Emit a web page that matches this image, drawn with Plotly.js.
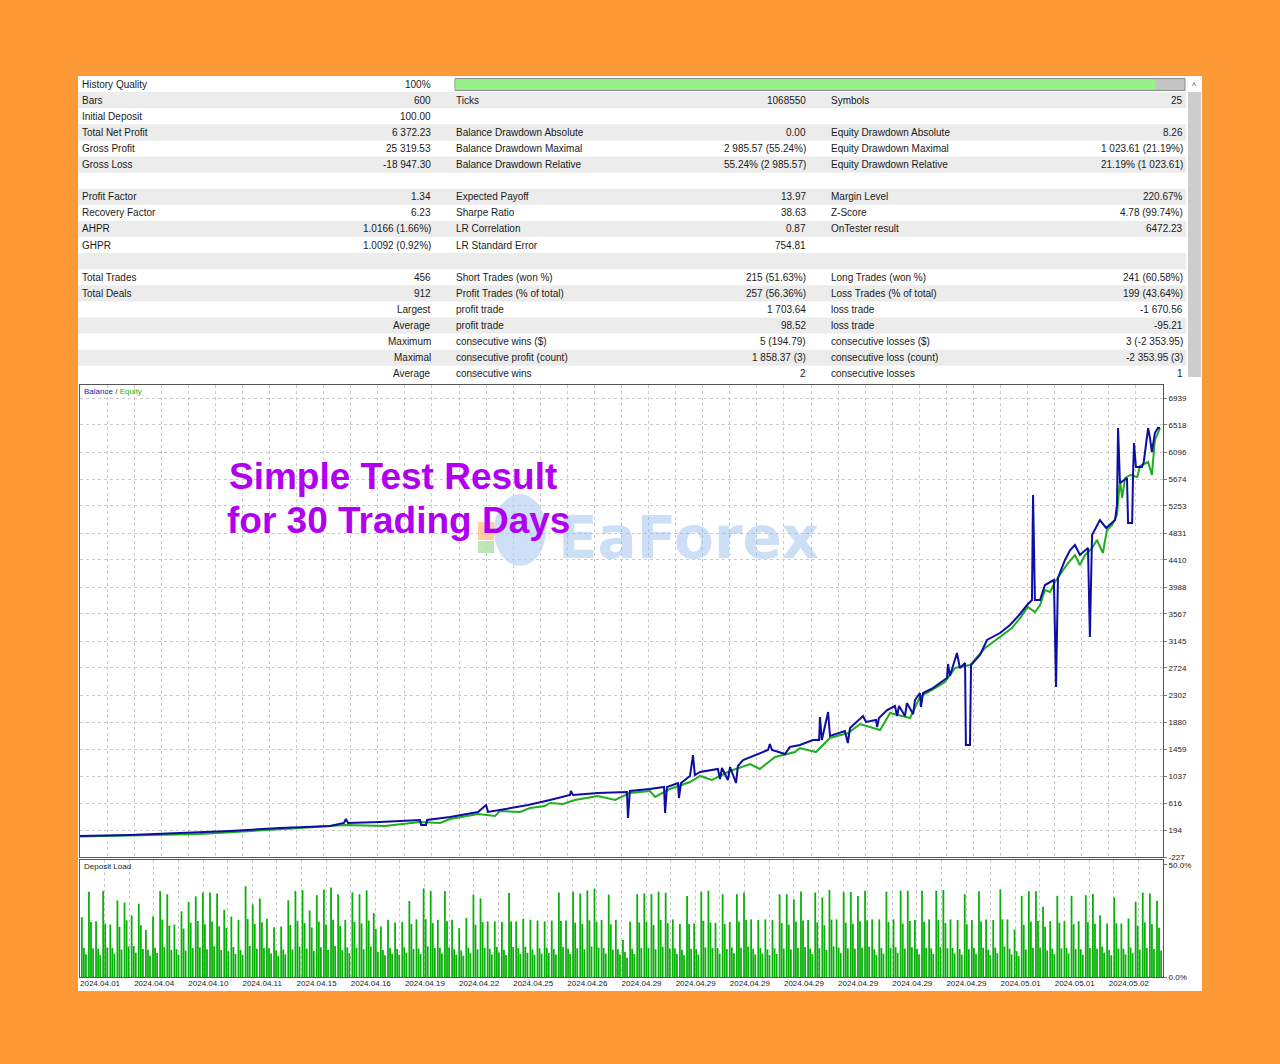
<!DOCTYPE html>
<html>
<head>
<meta charset="utf-8">
<script src="https://cdn.plot.ly/plotly-3.0.1.min.js"></script>
<style>
  html, body { margin: 0; padding: 0; background: #fd9a35; }
  #chart { width: 1280px; height: 1064px; }
</style>
</head>
<body>
<div id="chart"></div>
<script>
// ---------- report table ----------
const leftLabels = ['History Quality', 'Bars', 'Initial Deposit', 'Total Net Profit', 'Gross Profit', 'Gross Loss', '',
  'Profit Factor', 'Recovery Factor', 'AHPR', 'GHPR', '', 'Total Trades', 'Total Deals', '', '', '', '', ''];
const leftValues = ['100%', '600', '100.00', '6 372.23', '25 319.53', '-18 947.30', '',
  '1.34', '6.23', '1.0166 (1.66%)', '1.0092 (0.92%)', '', '456', '912', 'Largest', 'Average', 'Maximum', 'Maximal', 'Average'];
const midLabels = ['', 'Ticks', '', 'Balance Drawdown Absolute', 'Balance Drawdown Maximal', 'Balance Drawdown Relative', '',
  'Expected Payoff', 'Sharpe Ratio', 'LR Correlation', 'LR Standard Error', '', 'Short Trades (won %)', 'Profit Trades (% of total)',
  'profit trade', 'profit trade', 'consecutive wins ($)', 'consecutive profit (count)', 'consecutive wins'];
const midValues = ['', '1068550', '', '0.00', '2 985.57 (55.24%)', '55.24% (2 985.57)', '',
  '13.97', '38.63', '0.87', '754.81', '', '215 (51.63%)', '257 (56.36%)', '1 703.64', '98.52', '5 (194.79)', '1 858.37 (3)', '2'];
const rightLabels = ['', 'Symbols', '', 'Equity Drawdown Absolute', 'Equity Drawdown Maximal', 'Equity Drawdown Relative', '',
  'Margin Level', 'Z-Score', 'OnTester result', '', '', 'Long Trades (won %)', 'Loss Trades (% of total)',
  'loss trade', 'loss trade', 'consecutive losses ($)', 'consecutive loss (count)', 'consecutive losses'];
const rightValues = ['', '25', '', '8.26', '1 023.61 (21.19%)', '21.19% (1 023.61)', '',
  '220.67%', '4.78 (99.74%)', '6472.23', '', '', '241 (60.58%)', '199 (43.64%)', '-1 670.56', '-95.21', '3 (-2 353.95)', '-2 353.95 (3)', '1'];

// ---------- balance / equity curves ----------
const balanceX = [0,18.5,36.9,55.4,73.9,92.3,97.5,98.2,99,110.8,
  125.6,126,127.8,128.2,136.7,147,150,150.7,155.1,165.5,
  173.6,181,181.3,182.1,191.3,202,202.4,203.1,210.5,215.7,
  216.1,216.8,220.9,221.2,222,225.3,226.4,227.1,229,235.6,
  236.4,237.1,239.3,240.1,242.3,243,244.9,254.1,254.8,255.6,
  260.4,262.2,265.9,270.7,273,273.3,274,276.3,277,282.5,
  283.6,284.4,289.2,290.3,294,294.4,295.1,298.1,301,301.8,
  302.5,304.7,305.4,307.7,308.4,310.2,310.6,311.4,315,320.2,
  320.6,321.3,323.9,325,326.9,327.2,328.7,329.1,332.4,335,
  339.8,343.5,347.2,349.8,351.6,352,352.7,354.6,356.4,359.7,
  360.5,361.2,363.8,365.7,367.5,369.3,372.3,373,373.8,376.7,
  379,382.3,383,383.4,384.1,386.7,387.1,388.6,389,389.3,
  390,392.2,392.9,394.5,395.2,395.9,397,398.1,398.9];
const balanceY = [100,116,148,179,226,257,304,366,304,319,
  351,273,273,351,397,476,585,476,507,585,
  663,741,803,741,772,788,382,803,835,866,
  460,866,928,694,928,1038,1365,1053,1100,1147,
  991,1162,975,1178,928,1194,1287,1443,1537,1443,
  1381,1490,1522,1600,1600,1959,1600,2037,1662,1740,
  1553,1787,1974,1881,1912,1803,1943,2068,2130,1974,
  2130,1974,2177,2005,2224,2333,2115,2333,2411,2567,
  2786,2599,2958,2724,2802,1522,1522,2770,2926,3161,
  3270,3395,3567,3707,3785,5425,3785,3785,4019,4097,
  2427,4129,4410,4566,4644,4488,4597,3208,4800,5034,
  4910,5034,5269,6470,5612,5690,4988,4988,5862,6236,
  5862,5862,5940,6470,6314,6096,6392,6470,6472.23];
const equityX = [0,44.3,81.3,97.9,112.6,125.6,133,136.7,147,153.3,
  155.1,162.5,166.2,171.7,173.6,178.4,182.8,191.3,197.6,203.1,
  210.5,212.4,217.9,225.3,229,233.4,240.1,247.5,251.1,256.7,
  264.1,265.9,271.8,277,283.7,288.1,295.5,299.2,306.6,310.2,
  315.8,319.5,323.2,328.7,334.3,339.8,344.2,347.2,350.1,352.7,
  354.6,356.4,358.3,360.1,362.7,364.9,367.5,369.3,371.2,373.8,
  375.6,377.8,379.3,381.2,383,384.1,384.9,386,387.9,390.5,
  391.5,394.5,395.9,397,398.9];
const equityY = [95,132,226,273,257,319,304,366,444,413,
  491,476,538,569,616,600,663,725,663,772,
  803,710,835,944,1038,975,1116,1225,1147,1334,
  1412,1475,1412,1631,1709,1849,1756,2021,1943,2271,
  2411,2505,2724,2770,3036,3208,3348,3504,3676,3598,
  3707,3941,3910,4066,4222,4363,4488,4332,4488,4597,
  4722,4519,4878,4956,5112,5659,5378,5690,5737,5705,
  5877,5940,5737,6283,6470];
const balanceTicks = ['-227','194','616','1037','1459','1880','2302','2724','3145','3567',
  '3988','4410','4831','5253','5674','6096','6518','6939'];

// ---------- deposit load (%), three steps per trade ----------
const loadPeak = [26.7,38.0,24.9,38.4,23.4,34.2,33.2,27.5,32.7,21.0,
  27.0,38.3,36.9,23.4,29.3,33.5,36.0,37.7,37.7,37.2,
  30.0,27.0,25.5,40.5,32.4,35.0,26.0,22.2,22.5,34.2,
  38.4,38.7,29.7,36.5,39.0,39.9,36.9,25.5,37.8,36.9,
  38.6,28.5,22.5,25.5,24.3,24.6,33.9,25.7,39.5,38.4,
  25.5,38.4,25.5,21.8,26.3,36.8,35.1,24.8,24.8,24.5,
  37.5,24.8,26.0,25.5,25.2,24.8,25.2,37.7,25.2,38.0,
  37.2,38.6,39.5,25.5,36.8,25.5,16.5,24.8,36.9,
  37.3,37.0,38.1,37.6,25.7,23.6,36.1,23.9,38.1,38.5,
  24.2,36.9,24.6,36.9,37.7,25.7,25.4,25.7,25.4,36.9,
  36.9,34.6,38.1,25.4,37.7,35.5,38.8,25.7,37.9,37.9,
  36.1,38.5,25.7,25.7,38.1,25.7,38.5,38.5,25.4,38.5,
  25.7,38.5,38.8,25.7,25.4,37.0,25.4,38.3,25.7,25.4,
  39.1,25.7,21.2,36.2,38.3,38.3,31.3,24.9,36.2,24.9,
  36.2,24.9,36.5,37.0,27.6,23.9,35.5,23.9,26.1,33.6,
  37.7,37.3,34.0];
const loadMid = [13.0,24.5,12.6,23.8,12.9,22.4,25.3,13.8,23.1,12.2,
  13.1,25.6,22.9,12.4,21.6,24.2,25.0,23.5,24.8,22.6,
  21.9,13.4,12.1,25.9,23.7,24.4,12.8,11.9,12.3,23.2,
  25.1,24.0,22.1,24.7,23.4,25.5,22.8,13.2,24.6,23.9,
  25.2,21.4,12.0,12.9,12.5,13.3,23.6,12.7,25.8,24.1,
  13.0,24.9,12.4,11.8,13.1,23.3,24.5,12.6,13.4,12.2,
  24.8,12.9,13.5,12.3,12.8,13.1,12.5,25.0,12.7,24.2,
  23.7,25.3,24.6,12.9,23.5,12.4,11.2,12.6,24.3,
  24.6,23.2,25.4,24.0,12.8,12.2,23.7,12.5,25.1,24.3,
  12.9,23.6,13.2,24.8,25.5,12.6,13.0,12.3,12.8,24.1,
  23.4,24.7,25.2,12.7,24.4,23.0,25.6,13.1,24.2,23.8,
  24.9,25.3,12.4,12.9,24.5,13.3,23.9,25.0,12.6,24.6,
  12.8,25.4,24.1,13.0,12.5,23.5,12.9,24.8,12.2,13.1,
  25.7,12.6,11.5,23.3,24.7,25.0,22.4,12.7,24.2,13.0,
  23.6,12.4,24.5,23.8,13.6,12.1,24.0,12.6,13.2,22.9,
  24.4,23.7,22.0];
const loadLow = [10.2,12.8,9.8,13.1,10.4,12.2,13.6,10.9,12.5,9.6,
  10.7,13.4,12.1,10.0,11.8,12.9,13.2,12.4,13.7,12.0,
  11.5,10.3,9.9,13.9,12.6,13.0,10.5,9.4,10.1,12.3,
  13.5,12.7,11.6,13.3,12.2,13.8,12.0,10.6,13.1,12.4,
  13.6,11.3,9.7,10.4,10.0,10.8,12.5,10.2,13.7,12.9,
  10.5,13.2,9.9,9.5,10.6,12.3,13.0,10.1,10.9,9.8,
  13.4,10.3,10.8,9.9,10.4,10.7,10.0,13.5,10.2,12.8,
  12.4,13.6,13.1,10.5,12.2,10.0,8.6,10.3,12.9,
  13.0,12.4,13.5,12.8,10.3,9.7,12.6,10.0,13.2,12.9,
  10.4,12.5,10.6,13.1,13.6,10.1,10.5,9.8,10.3,12.7,
  12.3,13.0,13.4,10.2,12.9,12.1,13.7,10.6,12.8,12.6,
  13.2,13.5,9.9,10.4,13.0,10.8,12.7,13.3,10.1,13.0,
  10.3,13.4,12.8,10.5,10.0,12.4,10.4,13.1,9.8,10.6,
  13.6,10.1,9.3,12.3,13.0,13.2,11.9,10.2,12.8,10.5,
  12.5,9.9,12.9,12.6,10.9,9.7,12.7,10.1,10.6,12.2,
  12.9,12.5,11.8];
const dateLabels = ['2024.04.01','2024.04.04','2024.04.10','2024.04.11','2024.04.15','2024.04.16','2024.04.19',
  '2024.04.22','2024.04.25','2024.04.26','2024.04.29','2024.04.29','2024.04.29','2024.04.29','2024.04.29',
  '2024.04.29','2024.04.29','2024.05.01','2024.05.01','2024.05.02'];

// ---------- page geometry (pixels) ----------
const W = 1280, H = 1064;
const fx = x => x / W;
const fy = y => 1 - y / H;
const FONT = 'Liberation Sans, Arial, sans-serif';
const rowTop = 76, rowH = 16.1;
const rowCenter = i => rowTop + rowH * (i + 0.5);

const shapes = [];
const annotations = [];

// white report panel
shapes.push({type: 'rect', xref: 'paper', yref: 'paper', layer: 'below',
  x0: fx(78), x1: fx(1202), y0: fy(991), y1: fy(76), fillcolor: '#ffffff', line: {width: 0}});

// alternating row shading
leftLabels.forEach((_, i) => {
  if (i % 2 === 1) {
    shapes.push({type: 'rect', xref: 'paper', yref: 'paper', layer: 'below',
      x0: fx(78), x1: fx(1186), y0: fy(rowTop + rowH * (i + 1)), y1: fy(rowTop + rowH * i),
      fillcolor: '#ececec', line: {width: 0}});
  }
});

// history quality bar
shapes.push({type: 'rect', xref: 'paper', yref: 'paper', layer: 'below',
  x0: fx(455), x1: fx(1185), y0: fy(90.5), y1: fy(78.5), fillcolor: '#c4c4c4', line: {color: '#8a8a8a', width: 1}});
shapes.push({type: 'rect', xref: 'paper', yref: 'paper', layer: 'below',
  x0: fx(455.5), x1: fx(1155), y0: fy(90), y1: fy(79), fillcolor: '#98f088', line: {width: 0}});

// scrollbar
shapes.push({type: 'rect', xref: 'paper', yref: 'paper', layer: 'below',
  x0: fx(1188), x1: fx(1201), y0: fy(377), y1: fy(92), fillcolor: '#cdcdcd', line: {width: 0}});
annotations.push({xref: 'paper', yref: 'paper', x: fx(1194.5), y: fy(86), text: '^', showarrow: false,
  xanchor: 'center', yanchor: 'middle', font: {family: FONT, size: 9, color: '#555'}});

// table text
const tableCols = [
  {texts: leftLabels, x: 81, anchor: 'left'},
  {texts: leftValues, x: 432, anchor: 'right'},
  {texts: midLabels, x: 455, anchor: 'left'},
  {texts: midValues, x: 807, anchor: 'right'},
  {texts: rightLabels, x: 830, anchor: 'left'},
  {texts: rightValues, x: 1184, anchor: 'right'}
];
tableCols.forEach(col => {
  col.texts.forEach((t, i) => {
    if (!t) return;
    annotations.push({xref: 'paper', yref: 'paper', x: fx(col.x), y: fy(rowCenter(i)), text: t,
      showarrow: false, xanchor: col.anchor, yanchor: 'middle', borderpad: 0,
      font: {family: FONT, size: 10, color: '#1a1a1a'}});
  });
});

// watermark logo
shapes.push({type: 'circle', xref: 'paper', yref: 'paper', layer: 'below',
  x0: fx(494), x1: fx(546), y0: fy(566), y1: fy(494), fillcolor: 'rgba(80,145,230,0.28)', line: {width: 0}});
shapes.push({type: 'rect', xref: 'paper', yref: 'paper', layer: 'below',
  x0: fx(478), x1: fx(494), y0: fy(540), y1: fy(522), fillcolor: 'rgba(255,150,40,0.45)', line: {width: 0}});
shapes.push({type: 'rect', xref: 'paper', yref: 'paper', layer: 'below',
  x0: fx(478), x1: fx(494), y0: fy(553), y1: fy(541), fillcolor: 'rgba(110,200,90,0.45)', line: {width: 0}});
annotations.push({xref: 'paper', yref: 'paper', x: fx(688), y: fy(538), text: 'EaForex', showarrow: false,
  xanchor: 'center', yanchor: 'middle', font: {family: 'DejaVu Sans, sans-serif', size: 58, weight: 'bold', color: 'rgba(120,170,235,0.38)'}});

// headline
annotations.push({xref: 'paper', yref: 'paper', x: fx(393), y: fy(476), text: 'Simple Test Result', showarrow: false,
  xanchor: 'center', yanchor: 'middle', font: {family: FONT, size: 37, weight: 'bold', color: '#b000f0'}});
annotations.push({xref: 'paper', yref: 'paper', x: fx(398), y: fy(520), text: 'for 30 Trading Days', showarrow: false,
  xanchor: 'center', yanchor: 'middle', font: {family: FONT, size: 37, weight: 'bold', color: '#b000f0'}});

// chart captions
annotations.push({xref: 'paper', yref: 'paper', x: fx(82), y: fy(391.5), showarrow: false, xanchor: 'left', yanchor: 'middle',
  text: '<span style="color:#1a1aa0">Balance</span> <span style="color:#333">/</span> <span style="color:#22b022">Equity</span>',
  font: {family: FONT, size: 8}});
annotations.push({xref: 'paper', yref: 'paper', x: fx(82), y: fy(866.5), showarrow: false, xanchor: 'left', yanchor: 'middle',
  text: 'Deposit Load', font: {family: FONT, size: 8, color: '#222'}});

// ---------- traces ----------
const groupIdx = loadPeak.map((_, i) => i);
const loadBar = (vals, off) => ({
  type: 'bar', x: groupIdx, y: vals, xaxis: 'x2', yaxis: 'y2', width: 0.25, offset: off,
  marker: {color: '#08b008', line: {width: 0}}, hoverinfo: 'skip'
});

const traces = [
  {type: 'scatter', mode: 'lines', x: equityX, y: equityY, xaxis: 'x', yaxis: 'y', name: 'Equity',
   line: {color: '#1fae1f', width: 2}},
  {type: 'scatter', mode: 'lines', x: balanceX, y: balanceY, xaxis: 'x', yaxis: 'y', name: 'Balance',
   line: {color: '#0e0ea2', width: 2}},
  loadBar(loadPeak, -0.37),
  loadBar(loadMid, -0.08),
  loadBar(loadLow, 0.21),
  // empty carrier so the date axis of the load panel is laid out
  {type: 'scatter', mode: 'lines', x: [], y: [], xaxis: 'x3', yaxis: 'y2', hoverinfo: 'skip'}
];

const frame = {showline: true, mirror: true, linecolor: '#555555', linewidth: 1, zeroline: false};
const dotGrid = {showgrid: true, gridcolor: '#cacaca', griddash: 'dot', gridwidth: 1};
const tickFont = {family: FONT, size: 8, color: '#222'};
const loadRange = [-0.5, 151.6];
const loadGridCells = 44;

const layout = {
  width: W, height: H,
  margin: {l: 0, r: 0, t: 0, b: 0, pad: 0},
  paper_bgcolor: '#fd9a35',
  plot_bgcolor: '#ffffff',
  showlegend: false,
  barmode: 'overlay',
  xaxis: Object.assign({}, frame, dotGrid, {domain: [fx(80), fx(1163)], anchor: 'y', range: [0, 400],
    tick0: 0, dtick: 10, showticklabels: false, ticks: ''}),
  yaxis: Object.assign({}, frame, dotGrid, {domain: [fy(857), fy(385)], anchor: 'x', side: 'right',
    range: [-227, 7142], tickmode: 'array', tickvals: balanceTicks.map(Number), ticktext: balanceTicks,
    ticks: 'outside', ticklen: 3, tickcolor: '#777', tickfont: tickFont}),
  xaxis2: Object.assign({}, frame, dotGrid, {domain: [fx(80), fx(1163)], anchor: 'y2', range: loadRange,
    tickmode: 'linear', tick0: loadRange[0], dtick: (loadRange[1] - loadRange[0]) / loadGridCells,
    showticklabels: false, ticks: ''}),
  yaxis2: Object.assign({}, frame, {domain: [fy(977), fy(860)], anchor: 'x2', side: 'right',
    range: [0, 52.2], tickmode: 'array', tickvals: [0, 50], ticktext: ['0.0%', '50.0%'], showgrid: false,
    ticks: 'outside', ticklen: 3, tickcolor: '#777', tickfont: tickFont}),
  xaxis3: {overlaying: 'x2', anchor: 'y2', side: 'bottom', range: [0, 20], tickmode: 'array',
    tickvals: dateLabels.map((_, i) => i), ticktext: dateLabels, ticklabelposition: 'outside right',
    ticks: '', showgrid: false, zeroline: false, showline: false, tickfont: tickFont},
  shapes: shapes,
  annotations: annotations
};

Plotly.newPlot('chart', traces, layout, {displayModeBar: false, staticPlot: true});
</script>
</body>
</html>
